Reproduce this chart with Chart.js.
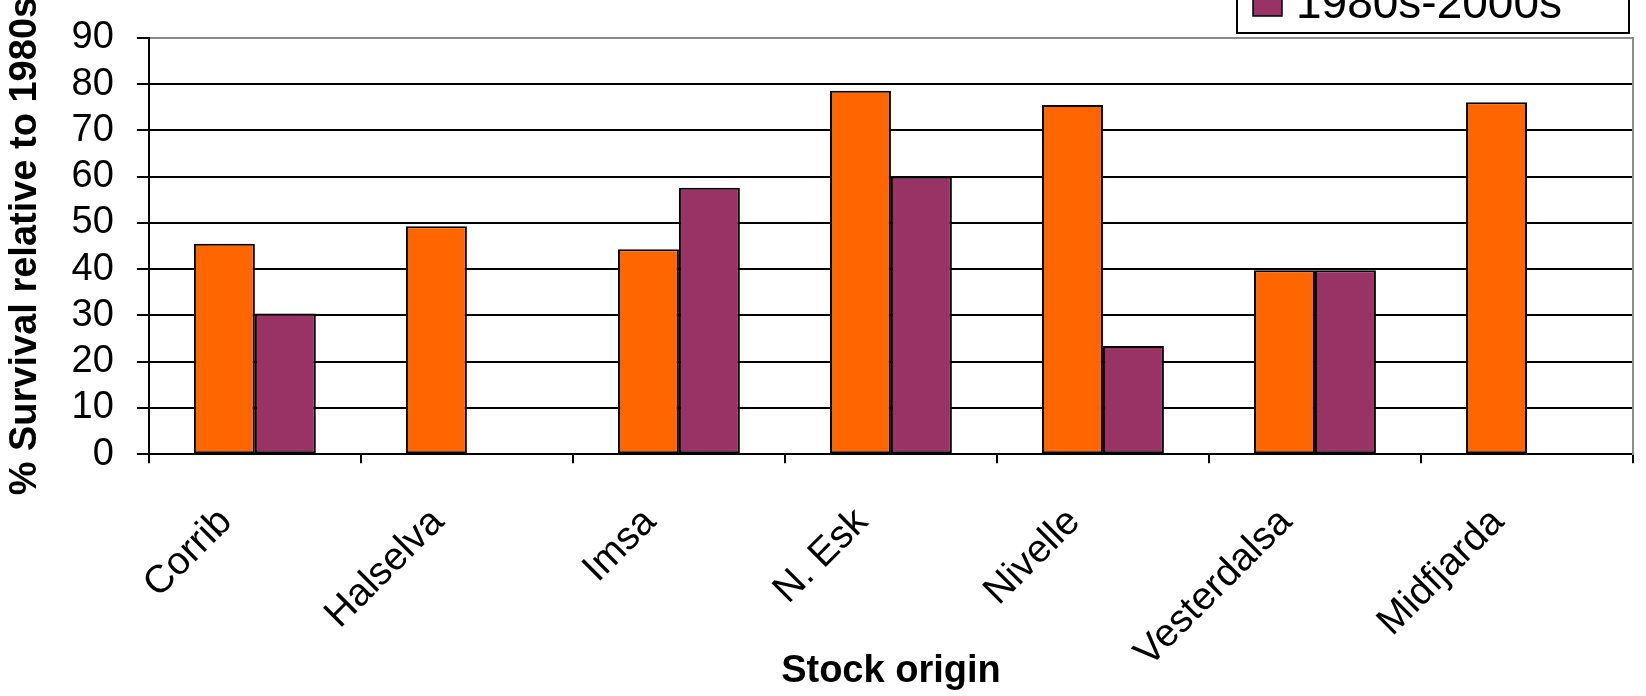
<!DOCTYPE html>
<html>
<head>
<meta charset="utf-8">
<script src="https://cdn.jsdelivr.net/npm/chart.js@4.4.1/dist/chart.umd.min.js"></script>
<style>
  html, body { margin: 0; padding: 0; background: #ffffff; }
  canvas { display: block; }
</style>
</head>
<body>
<canvas id="c" width="1646" height="696"></canvas>
<script>
// ---- data ----
const categories = ['Corrib', 'Halselva', 'Imsa', 'N. Esk', 'Nivelle', 'Vesterdalsa', 'Midfjarda'];
const seriesNames = ['1970s-1980s', '1980s-2000s'];
const seriesEarly = [45.5, 49.3, 44.3, 78.6, 75.5, 39.8, 76.1];
const seriesLate = [30.4, null, 57.6, 60.0, 23.4, 39.8, null];
const yTickValues = [0, 10, 20, 30, 40, 50, 60, 70, 80, 90];
const xTitle = 'Stock origin';
const yTitle = '% Survival relative to 1980s';

const FONT = "Arial, 'Liberation Sans', sans-serif";
Chart.defaults.font.family = FONT;
Chart.defaults.color = '#000';

// legend drawn in the top-right corner (partly outside the canvas, as in the original)
const cornerLegend = {
  id: 'cornerLegend',
  afterDraw(chart) {
    const ctx = chart.ctx;
    const ds = chart.data.datasets;
    ctx.save();
    const boxL = 1237, boxR = 1629, boxB = 33, rowH = 56;
    const boxT = boxB - ds.length * rowH - 10;
    ctx.fillStyle = '#fff';
    ctx.fillRect(boxL, boxT, boxR - boxL, boxB - boxT);
    ctx.lineWidth = 2;
    ctx.strokeStyle = '#000';
    ctx.strokeRect(boxL, boxT, boxR - boxL, boxB - boxT);
    ds.forEach((d, i) => {
      const base = 18 - (ds.length - 1 - i) * rowH;
      ctx.fillStyle = d.backgroundColor;
      ctx.fillRect(1253, base - 31, 29, 29);
      ctx.lineWidth = 1.5;
      ctx.strokeStyle = '#000';
      ctx.strokeRect(1253, base - 31, 29, 29);
      ctx.fillStyle = '#000';
      ctx.font = '46px ' + FONT;
      ctx.textBaseline = 'alphabetic';
      ctx.textAlign = 'left';
      ctx.fillText(d.label, 1296, base);
    });
    ctx.restore();
  }
};

new Chart(document.getElementById('c'), {
  type: 'bar',
  data: {
    labels: categories,
    datasets: [
      { label: seriesNames[0], data: seriesEarly, backgroundColor: '#FF6600', borderColor: '#000', borderWidth: 2, borderSkipped: false },
      { label: seriesNames[1], data: seriesLate, backgroundColor: '#993366', borderColor: '#000', borderWidth: 2, borderSkipped: false }
    ]
  },
  options: {
    responsive: false,
    devicePixelRatio: 1,
    animation: false,
    layout: { padding: { top: 38, right: 13, left: 0, bottom: 0 } },
    datasets: { bar: { categoryPercentage: 0.575, barPercentage: 1.0 } },
    plugins: { legend: { display: false }, tooltip: { enabled: false } },
    scales: {
      x: {
        grid: { display: true, drawOnChartArea: false, drawTicks: true, tickLength: 9, color: '#000', lineWidth: 2, offset: true },
        border: { display: true, color: '#000', width: 2 },
        ticks: { font: { size: 39 }, color: '#000', minRotation: 45, maxRotation: 45, padding: 36, labelOffset: -29, autoSkip: false },
        title: { display: true, text: xTitle, font: { size: 38, weight: 'bold' }, color: '#000', padding: { top: -64, bottom: 2 } }
      },
      y: {
        min: yTickValues[0],
        max: yTickValues[yTickValues.length - 1],
        ticks: { stepSize: yTickValues[1] - yTickValues[0], autoSkip: false, font: { size: 38, lineHeight: 0.6 }, color: '#000', padding: 23 },
        grid: {
          color: c => (c.tick && c.tick.value === yTickValues[yTickValues.length - 1]) ? '#8c8c8c' : '#000',
          tickColor: '#000', lineWidth: 2, tickLength: 12
        },
        border: { display: true, color: '#000', width: 2 },
        title: { display: true, text: yTitle, font: { size: 38, weight: 'bold' }, color: '#000', padding: { top: 3, bottom: 0 } }
      },
      yRight: {
        position: 'right',
        grid: { display: false, drawTicks: false },
        ticks: { display: false },
        border: { display: true, color: '#8c8c8c', width: 2 }
      }
    }
  },
  plugins: [cornerLegend]
});
</script>
</body>
</html>
